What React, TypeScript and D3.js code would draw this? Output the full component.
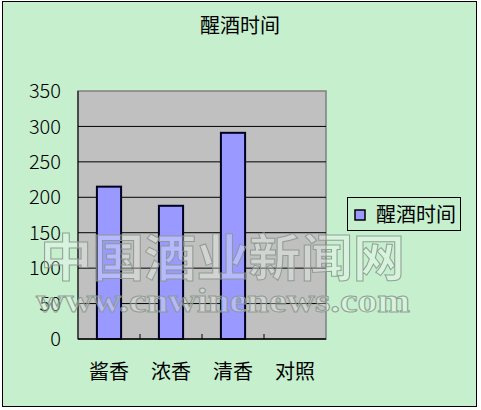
import React from "react"
import * as d3 from "d3"

const categories = ["酱香", "浓香", "清香", "对照"]
const values = [215, 188, 291, 0]
const yTicks = [0, 50, 100, 150, 200, 250, 300, 350]
const seriesName = "醒酒时间"

export default function App() {
  const width = 481
  const height = 410
  const plot = { left: 78, right: 326, top: 91, bottom: 339 }

  const x = d3.scaleBand().domain(categories).range([plot.left, plot.right]).paddingInner(0).paddingOuter(0)
  const y = d3.scaleLinear().domain([0, 350]).range([plot.bottom, plot.top])
  const barW = x.bandwidth() * 0.39

  const cjk = '"Noto Sans CJK SC", sans-serif'

  return (
    <svg
      width={width}
      height={height}
      style={{ position: "fixed", left: 0, top: 0, display: "block" }}
    >
      <rect x={0} y={0} width={width} height={height} fill="#ffffff" />
      <rect x={2.5} y={1.5} width={474} height={405} fill="#C6EFCE" stroke="#000" strokeWidth={1} />

      {/* title */}
      <text x={240} y={33} textAnchor="middle" fontSize={20} fontFamily={cjk} fill="#000">
        {seriesName}
      </text>

      {/* plot area */}
      <rect x={plot.left} y={plot.top} width={plot.right - plot.left} height={plot.bottom - plot.top} fill="#C0C0C0" stroke="#808080" strokeWidth={1.5} />
      {yTicks.filter((t) => t > 0 && t < 350).map((t) => (
        <line key={t} x1={plot.left} x2={plot.right} y1={y(t)} y2={y(t)} stroke="#000" strokeWidth={1} />
      ))}

      {/* bars */}
      {categories.map((c, i) =>
        values[i] > 0 ? (
          <rect
            key={c}
            x={(x(c) || 0) + (x.bandwidth() - barW) / 2}
            y={y(values[i])}
            width={barW}
            height={y(0) - y(values[i])}
            fill="#9999FF"
            stroke="#000020"
            strokeWidth={2}
          />
        ) : null
      )}

      {/* axes */}
      <line x1={plot.left} x2={plot.left} y1={plot.top} y2={plot.bottom} stroke="#000" strokeWidth={1} />
      <line x1={plot.left} x2={plot.right} y1={plot.bottom} y2={plot.bottom} stroke="#000" strokeWidth={1.5} />
      {categories.slice(1).map((c) => (
        <line key={c} x1={x(c) || 0} x2={x(c) || 0} y1={plot.bottom} y2={plot.bottom - 5} stroke="#000" strokeWidth={1} />
      ))}

      {yTicks.map((t) => (
        <text key={t} x={61} y={y(t)} dy="0.36em" textAnchor="end" fontSize={20} fontFamily={cjk} fontWeight={300} fill="#000">
          {t}
        </text>
      ))}

      {categories.map((c) => (
        <text key={c} x={(x(c) || 0) + x.bandwidth() / 2} y={372} dy="0.36em" textAnchor="middle" fontSize={20} fontFamily={cjk} fill="#000">
          {c}
        </text>
      ))}

      {/* legend */}
      <rect x={347.5} y={197.5} width={113} height={33} fill="#C6EFCE" stroke="#000" strokeWidth={1} />
      <rect x={355} y={210} width={10} height={10} fill="#9999FF" stroke="#000" strokeWidth={1.5} />
      <text x={376} y={215} dy="0.36em" fontSize={20} fontFamily={cjk} fill="#000">
        {seriesName}
      </text>

      {/* watermark */}
      <g fill="rgba(255,255,255,0.35)" stroke="#8a9a8e" strokeWidth={1} opacity={0.9}>
        <text x={40} y={276} fontSize={50} fontFamily={cjk} fontWeight={700} textLength={365} lengthAdjust="spacingAndGlyphs">
          中国酒业新闻网
        </text>
        <text x={36} y={312} fontSize={34} fontFamily='"Liberation Serif", serif' fontWeight={700} textLength={374} lengthAdjust="spacingAndGlyphs">
          www.cnwinenews.com
        </text>
      </g>
    </svg>
  )
}
